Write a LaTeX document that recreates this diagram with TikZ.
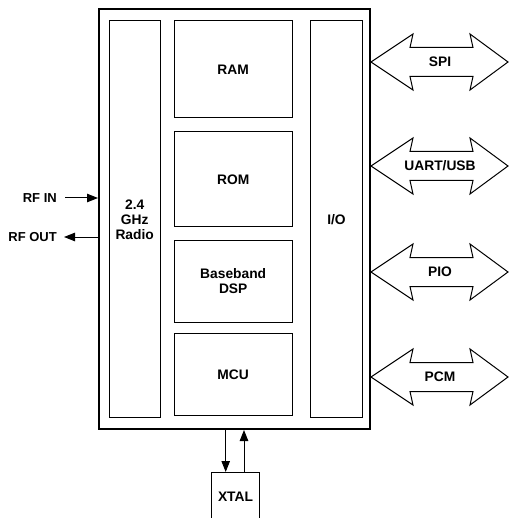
\documentclass[tikz,border=0pt]{standalone}
\usepackage{fontspec}
\setmainfont{Liberation Sans}
\usetikzlibrary{arrows.meta,positioning}
\tikzset{
  >={Triangle[length=11pt,width=8.5pt]},
  % blocks
  chipbox/.style={draw,line width=2pt,inner sep=0pt},
  blk/.style={draw,line width=1pt,inner sep=0pt,align=center,
              font=\fontsize{13.8}{15}\selectfont\bfseries},
  lbl/.style={inner sep=0pt,font=\fontsize{13.8}{15}\selectfont\bfseries},
  rflbl/.style={inner sep=0pt,font=\fontsize{13}{15}\selectfont\bfseries},
  % signals
  sig/.style={->,line width=1pt},
  bus/.style={draw,line width=1pt,line join=miter,fill=white},
}
\begin{document}
\begin{tikzpicture}[x=1pt,y=-1pt]
\useasboundingbox (0,0) rectangle (509,518);
  \node[chipbox,minimum width=271pt,minimum height=420pt] (chip) at (234.5,219) {};
  \node[blk,minimum width=51pt,minimum height=397pt] (radio) at (134.7,219.3) {2.4\\GHz\\Radio};
  \node[blk,minimum width=51.6pt,minimum height=397pt] (io) at (336.5,219.3) {I/O};
  \node[blk,minimum width=117.7pt,minimum height=97.3pt] (ram) at (233.2,69.3) {RAM};
  \node[blk,minimum width=117.7pt,minimum height=95.3pt] (rom) at (233.2,179.3) {ROM};
  \node[blk,minimum width=117.7pt,minimum height=82pt] (dsp) at (233.2,281) {Baseband\\DSP};
  \node[blk,minimum width=117.7pt,minimum height=82.3pt] (mcu) at (233.2,374.8) {MCU};
  \node[blk,minimum width=47.6pt,minimum height=48.6pt] (xtal) at (235.5,496.8) {XTAL};
  % radio side
  \node[rflbl,anchor=east,inner xsep=8pt] (rfin) at (65,198) {RF IN};
  \node[rflbl,anchor=east,inner xsep=7pt] (rfout) at (64,237) {RF OUT};
  \draw[sig] (rfin.east) -- (rfin.east -| chip.west);
  \draw[sig] (rfout.east -| chip.west) -- (rfout.east);
  % crystal
  \draw[sig] ([xshift=-9.8pt]xtal.north |- chip.south) -- ([xshift=-9.8pt]xtal.north);
  \draw[sig] ([xshift=8.5pt]xtal.north) -- ([xshift=8.5pt]xtal.north |- chip.south);
  % interfaces
  \foreach \y/\nm/\txt in {62/spi/SPI,166/uart/{UART/USB},272/pio/PIO,377/pcm/PCM}{
    \draw[bus] (371,\y) -- (413,\y-28) -- (410,\y-14.5) -- (473,\y-14.5) -- (470,\y-28)
      -- (508,\y) -- (470,\y+28) -- (473,\y+14.5) -- (410,\y+14.5) -- (413,\y+28) -- cycle;
    \node[lbl] (\nm) at (440,\y) {\txt};
  }
\end{tikzpicture}
\end{document}
